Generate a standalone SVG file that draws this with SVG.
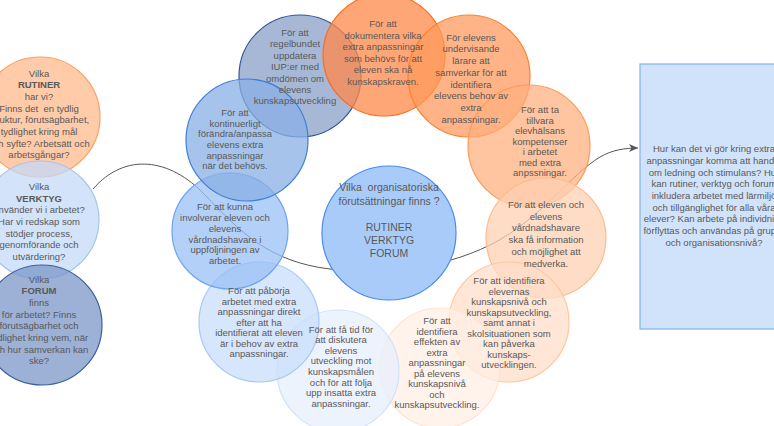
<svg xmlns="http://www.w3.org/2000/svg" width="774" height="426" viewBox="0 0 774 426">
<style>
text{font-family:"Liberation Sans",Arial,sans-serif;font-size:9.5px;fill:#595959;text-anchor:middle}
.b{font-weight:bold}
.ctr{font-size:10.5px}
circle{stroke-width:1.2}
.t{fill-opacity:0.75}
</style>
<defs>
<marker id="arr" markerWidth="10" markerHeight="8" refX="9" refY="4" orient="auto" markerUnits="userSpaceOnUse"><path d="M0,0 L9,4 L0,8 L2.5,4 z" fill="#555"/></marker>
</defs>
<rect width="774" height="426" fill="#fff"/>
<g id="connectors">
<path d="M93 189 C125 152,170 158,205 195 C240 232,270 262,330 269 C380 274,440 270,490 245 C540 220,570 175,600 157 C612 150,625 148,638 148" fill="none" stroke="#555" stroke-width="1" marker-end="url(#arr)"/>
</g>
<g id="shapes">
<g id="box-right"><rect x="640" y="64" width="150" height="265" fill="#D0E3FA" stroke="#7FB3E6" stroke-width="1.2"/></g>
<g id="rutiner"><circle class="t" cx="40" cy="117" r="60" fill="#FFBA8B" stroke="#FF9E5E"/></g>
<g id="verktyg"><circle class="t" cx="40" cy="220" r="59" fill="#C3DAF8" stroke="#A4C6F3"/></g>
<g id="forum"><circle class="t" cx="42" cy="325" r="60" fill="#7B97C7" stroke="#3A5E9C"/></g>
<g id="center"><circle cx="389" cy="233" r="67" fill="#A9CBFA" stroke="#4A8AEA"/></g>
<g id="n-regelbundet"><circle class="t" cx="300" cy="76" r="61" fill="#8AA0C8" stroke="#2F5597"/></g>
<g id="n-dokumentera"><circle class="t" cx="384" cy="55" r="61" fill="#FF8848" stroke="#FF6A1A"/></g>
<g id="n-undervisande"><circle class="t" cx="469" cy="76" r="61" fill="#FF9A5E" stroke="#FF7F2A"/></g>
<g id="n-tillvara"><circle class="t" cx="529" cy="146" r="61" fill="#FFB080" stroke="#FF9A55"/></g>
<g id="n-vardnadshavare"><circle class="t" cx="546" cy="238" r="60" fill="#FFD0B3" stroke="#FFBA8A"/></g>
<g id="n-elevernas"><circle class="t" cx="509" cy="322" r="60" fill="#FFDEC8" stroke="#FFC79E"/></g>
<g id="n-effekten"><circle class="t" cx="440" cy="368" r="60" fill="#FFEFE6" stroke="#FFE3D0"/></g>
<g id="n-fatid"><circle class="t" cx="338" cy="371" r="61" fill="#E7EFFC" stroke="#D2E2FA"/></g>
<g id="n-paborja"><circle class="t" cx="259" cy="322" r="60" fill="#C8DEFB" stroke="#A6C8F6"/></g>
<g id="n-kunna"><circle class="t" cx="230" cy="231" r="58" fill="#9AC0F6" stroke="#6EA3EE"/></g>
<g id="n-kontinuerligt"><circle class="t" cx="247" cy="140" r="61" fill="#88AFE4" stroke="#3F7FD5"/></g>
</g>
<g id="labels">
<g id="box-right-label"><text><tspan x="714" y="152.4">Hur kan det vi gör kring extra</tspan><tspan x="714" y="164">anpassningar komma att handla</tspan><tspan x="714" y="175.7">om ledning och stimulans? Hur</tspan><tspan x="714" y="187.4">kan rutiner, verktyg och forum</tspan><tspan x="714" y="199">inkludera arbetet med lärmiljö</tspan><tspan x="714" y="210.7">och tillgänglighet för alla våra</tspan><tspan x="714" y="222.4">elever? Kan arbete på individnivå</tspan><tspan x="714" y="234">förflyttas och användas på grupp-</tspan><tspan x="714" y="245.7">och organisationsnivå?</tspan></text></g>
<g id="rutiner-label"><text><tspan x="39" y="76.7">Vilka</tspan><tspan x="39" y="88.4" class="b">RUTINER</tspan><tspan x="39" y="100">har vi?</tspan><tspan x="39" y="111.7">Finns det&#160; en tydlig</tspan><tspan x="39" y="123.4">struktur, förutsägbarhet,</tspan><tspan x="39" y="135">tydlighet kring mål</tspan><tspan x="39" y="146.7">och syfte? Arbetsätt och</tspan><tspan x="39" y="158.4">arbetsgångar?</tspan></text></g>
<g id="verktyg-label"><text><tspan x="39" y="190.1">Vilka</tspan><tspan x="39" y="201.8" class="b">VERKTYG</tspan><tspan x="39" y="213.4">använder vi i arbetet?</tspan><tspan x="39" y="225.1">Har vi redskap som</tspan><tspan x="39" y="236.8">stödjer process,</tspan><tspan x="39" y="248.4">genomförande och</tspan><tspan x="39" y="260.1">utvärdering?</tspan></text></g>
<g id="forum-label"><text><tspan x="39" y="282.7">Vilka</tspan><tspan x="39" y="294.3" class="b">FORUM</tspan><tspan x="39" y="306">finns</tspan><tspan x="39" y="317.6">för arbetet? Finns</tspan><tspan x="39" y="329.2">förutsägbarhet och</tspan><tspan x="39" y="340.9">tydlighet kring vem, när</tspan><tspan x="39" y="352.5">och hur samverkan kan</tspan><tspan x="39" y="364.1">ske?</tspan></text></g>
<g id="center-label"><text class="ctr"><tspan x="389" y="191">Vilka&#160; organisatoriska</tspan><tspan x="389" y="205">förutsättningar finns ?</tspan><tspan x="389" y="231">RUTINER</tspan><tspan x="389" y="244">VERKTYG</tspan><tspan x="389" y="257">FORUM</tspan></text></g>
<g id="n-regelbundet-label"><text><tspan x="295" y="36">För att</tspan><tspan x="295" y="47.4">regelbundet</tspan><tspan x="295" y="58.8">uppdatera</tspan><tspan x="295" y="70.2">IUP:er med</tspan><tspan x="295" y="81.6">omdömen om</tspan><tspan x="295" y="93">elevens</tspan><tspan x="295" y="104.4">kunskapsutveckling</tspan></text></g>
<g id="n-dokumentera-label"><text><tspan x="383" y="27">För att</tspan><tspan x="383" y="38.6">dokumentera vilka</tspan><tspan x="383" y="50.2">extra anpassningar</tspan><tspan x="383" y="61.8">som behövs för att</tspan><tspan x="383" y="73.4">eleven ska nå</tspan><tspan x="383" y="85">kunskapskraven.</tspan></text></g>
<g id="n-undervisande-label"><text><tspan x="471" y="40.7">För elevens</tspan><tspan x="471" y="52.4">undervisande</tspan><tspan x="471" y="64.1">lärare att</tspan><tspan x="471" y="75.8">samverkar för att</tspan><tspan x="471" y="87.5">identifiera</tspan><tspan x="471" y="99.2">elevens behov av</tspan><tspan x="471" y="110.9">extra</tspan><tspan x="471" y="122.6">anpassningar.</tspan></text></g>
<g id="n-tillvara-label"><text><tspan x="540" y="113.4">För att ta</tspan><tspan x="540" y="123.9">tillvara</tspan><tspan x="540" y="134.3">elevhälsans</tspan><tspan x="540" y="144.8">kompetenser</tspan><tspan x="540" y="155.2">i arbetet</tspan><tspan x="540" y="165.7">med extra</tspan><tspan x="540" y="176.1">anpssningar.</tspan></text></g>
<g id="n-vardnadshavare-label"><text><tspan x="546" y="207.7">För att eleven och</tspan><tspan x="546" y="219.5">elevens</tspan><tspan x="546" y="231.3">vårdnadshavare</tspan><tspan x="546" y="243.1">ska få information</tspan><tspan x="546" y="254.9">och möjlighet att</tspan><tspan x="546" y="266.7">medverka.</tspan></text></g>
<g id="n-elevernas-label"><text><tspan x="509" y="284.1">För att identifiera</tspan><tspan x="509" y="294.6">elevernas</tspan><tspan x="509" y="305.2">kunskapsnivå och</tspan><tspan x="509" y="315.7">kunskapsutveckling,</tspan><tspan x="509" y="326.2">samt annat i</tspan><tspan x="509" y="336.8">skolsituationen som</tspan><tspan x="509" y="347.3">kan påverka</tspan><tspan x="509" y="357.8">kunskaps-</tspan><tspan x="509" y="368.4">utvecklingen.</tspan></text></g>
<g id="n-effekten-label"><text><tspan x="437" y="324.4">För att</tspan><tspan x="437" y="334.9">identifiera</tspan><tspan x="437" y="345.4">effekten av</tspan><tspan x="437" y="355.9">extra</tspan><tspan x="437" y="366.4">anpassningar</tspan><tspan x="437" y="376.9">på elevens</tspan><tspan x="437" y="387.4">kunskapsnivå</tspan><tspan x="437" y="397.9">och</tspan><tspan x="437" y="408.4">kunskapsutveckling.</tspan></text></g>
<g id="n-fatid-label"><text><tspan x="341" y="332.7">För att få tid för</tspan><tspan x="341" y="343.3">att diskutera</tspan><tspan x="341" y="353.8">elevens</tspan><tspan x="341" y="364.4">utveckling mot</tspan><tspan x="341" y="375">kunskapsmålen</tspan><tspan x="341" y="385.6">och för att följa</tspan><tspan x="341" y="396.1">upp insatta extra</tspan><tspan x="341" y="406.7">anpassningar.</tspan></text></g>
<g id="n-paborja-label"><text><tspan x="259" y="294.1">För att påbörja</tspan><tspan x="259" y="304.7">arbetet med extra</tspan><tspan x="259" y="315.2">anpassningar direkt</tspan><tspan x="259" y="325.8">efter att ha</tspan><tspan x="259" y="336.3">identifierat att eleven</tspan><tspan x="259" y="346.9">är i behov av extra</tspan><tspan x="259" y="357.4">anpassningar.</tspan></text></g>
<g id="n-kunna-label"><text><tspan x="225" y="210.1">För att kunna</tspan><tspan x="225" y="220.9">involverar eleven och</tspan><tspan x="225" y="231.7">elevens</tspan><tspan x="225" y="242.5">vårdnadshavare i</tspan><tspan x="225" y="253.3">uppföljningen av</tspan><tspan x="225" y="264.1">arbetet.</tspan></text></g>
<g id="n-kontinuerligt-label"><text><tspan x="235" y="116.1">För att</tspan><tspan x="235" y="126.8">kontinuerligt</tspan><tspan x="235" y="137.4">förändra/anpassa</tspan><tspan x="235" y="148.1">elevens extra</tspan><tspan x="235" y="158.8">anpassningar</tspan><tspan x="235" y="169.4">när det behövs.</tspan></text></g>
</g>
</svg>
